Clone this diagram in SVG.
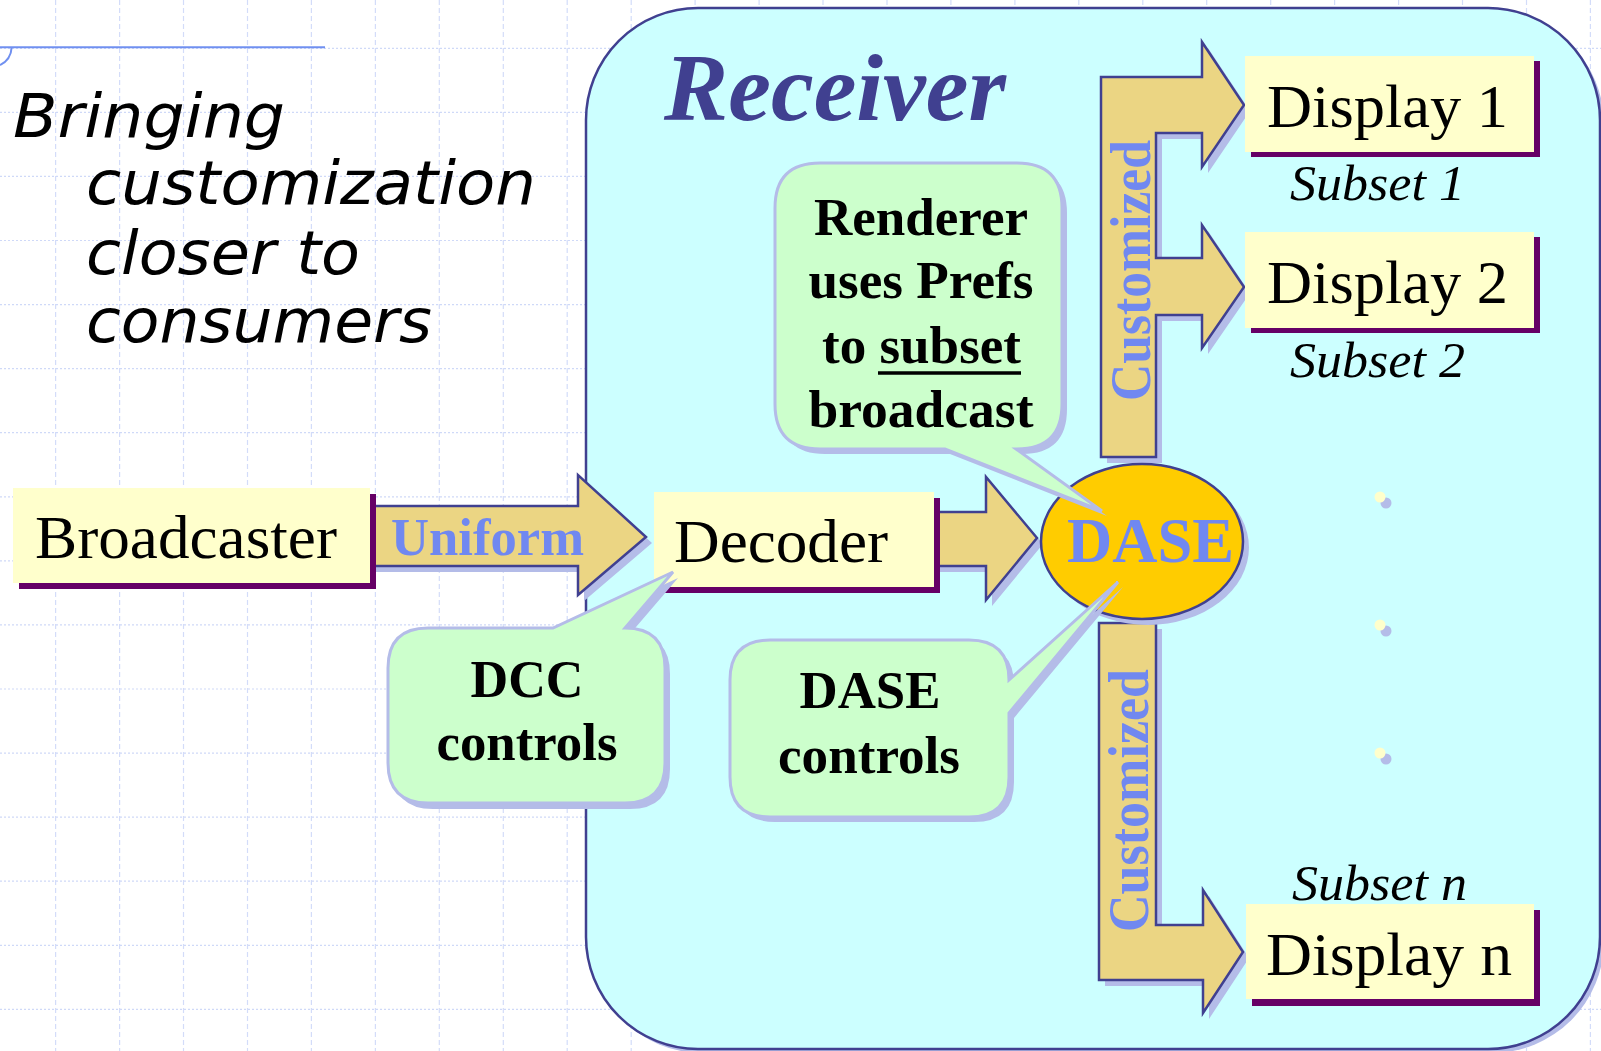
<svg xmlns="http://www.w3.org/2000/svg" width="1601" height="1051" viewBox="0 0 1601 1051">
<style>
.gh{stroke:#cfd9f8;stroke-width:1.2;stroke-dasharray:2 2;fill:none}
.gv{stroke:#d3dcf9;stroke-width:1.2;stroke-dasharray:5 3;fill:none}
.box{fill:#ffffcc}
.bsh{fill:#660066}
.arr{fill:#ebd583;stroke:#404090;stroke-width:2.5;stroke-linejoin:miter}
.ash{fill:#b4bce8}
.cal{fill:#ccffcc;stroke:#b4bce8;stroke-width:3}
.csh{fill:#b4bce8}
.t{font-family:"Liberation Serif","Times New Roman",serif;fill:#000}
.tb{font-family:"Liberation Serif","Times New Roman",serif;font-weight:bold;fill:#000}
.blue{font-family:"Liberation Serif","Times New Roman",serif;font-weight:bold;fill:#7088f0}
.it{font-family:"Liberation Serif","Times New Roman",serif;font-style:italic;fill:#000}
.side{font-family:"DejaVu Sans",Verdana,sans-serif;font-style:oblique;fill:#000;font-size:61px}
</style>
<rect x="0" y="0" width="1601" height="1051" fill="#ffffff"/>
<g id="grid">
<path class="gh" d="M0 48.3H1601M0 112.4H1601M0 176.4H1601M0 240.5H1601M0 304.6H1601M0 368.7H1601M0 432.7H1601M0 496.8H1601M0 560.9H1601M0 624.9H1601M0 689H1601M0 753.1H1601M0 817.1H1601M0 881.2H1601M0 945.3H1601M0 1009.4H1601"/>
<path class="gv" d="M55.6 0V1051M119.6 0V1051M183.5 0V1051M247.5 0V1051M311.4 0V1051M375.4 0V1051M439.3 0V1051M503.3 0V1051M567.2 0V1051M631.2 0V1051M695.1 0V1051M759.1 0V1051M823 0V1051M887 0V1051M950.9 0V1051M1014.9 0V1051M1078.8 0V1051M1142.8 0V1051M1206.7 0V1051M1270.7 0V1051M1334.6 0V1051M1398.6 0V1051M1462.5 0V1051M1526.5 0V1051M1590.4 0V1051"/>
</g>
<g id="title-rule">
<line x1="0" y1="47.3" x2="325" y2="47.3" stroke="#7090f0" stroke-width="2"/>
<path d="M0 65 Q11 60 11.7 47" fill="none" stroke="#7090f0" stroke-width="2"/>
</g>
<g id="caption">
<text class="side" x="13" y="137" textLength="272" lengthAdjust="spacingAndGlyphs">Bringing</text>
<text class="side" x="86" y="204" textLength="450" lengthAdjust="spacingAndGlyphs">customization</text>
<text class="side" x="86" y="274" textLength="274" lengthAdjust="spacingAndGlyphs">closer to</text>
<text class="side" x="86" y="342" textLength="346" lengthAdjust="spacingAndGlyphs">consumers</text>
</g>
<g id="receiver">
<rect x="590" y="12" width="1014" height="1041" rx="112" ry="112" fill="#b4bce8"/>
<rect x="586" y="8" width="1014" height="1041" rx="112" ry="112" fill="#ccffff" stroke="#404090" stroke-width="2.5"/>
<text x="664" y="120" font-family="Liberation Serif,'Times New Roman',serif" font-weight="bold" font-style="italic" font-size="96" fill="#404090" textLength="342" lengthAdjust="spacingAndGlyphs">Receiver</text>
</g>
<g id="connectors">
<polygon class="ash" transform="translate(6,6)" points="370,506 578,506 578,475 646,537 578,595 578,566 370,566"/>
<polygon class="arr" points="370,506 578,506 578,475 646,537 578,595 578,566 370,566"/>
<text class="blue" x="391" y="555" font-size="53" textLength="193" lengthAdjust="spacingAndGlyphs">Uniform</text>
<polygon class="ash" transform="translate(6,6)" points="934,512 986,512 986,477 1037,538 986,600 986,566 934,566"/>
<polygon class="arr" points="934,512 986,512 986,477 1037,538 986,600 986,566 934,566"/>
<polygon class="ash" transform="translate(6,6)" points="1101,77 1202,77 1202,42 1244,105 1202,167 1202,133 1156,133 1156,258 1202,258 1202,225 1244,287 1202,348 1202,315 1156,315 1156,457 1101,457"/>
<polygon class="arr" points="1101,77 1202,77 1202,42 1244,105 1202,167 1202,133 1156,133 1156,258 1202,258 1202,225 1244,287 1202,348 1202,315 1156,315 1156,457 1101,457"/>
<text class="blue" transform="translate(1150,270.5) rotate(-90)" x="0" y="0" text-anchor="middle" font-size="58" textLength="261" lengthAdjust="spacingAndGlyphs">Customized</text>
<polygon class="ash" transform="translate(6,6)" points="1099,623 1156,623 1156,925 1203,925 1203,890 1243,952 1203,1013 1203,980 1099,980"/>
<polygon class="arr" points="1099,623 1156,623 1156,925 1203,925 1203,890 1243,952 1203,1013 1203,980 1099,980"/>
<text class="blue" transform="translate(1148,800.5) rotate(-90)" x="0" y="0" text-anchor="middle" font-size="58" textLength="263" lengthAdjust="spacingAndGlyphs">Customized</text>
</g>
<g id="broadcaster">
<rect class="bsh" x="19" y="494" width="357" height="95"/>
<rect class="box" x="13" y="488" width="357" height="95"/>
<text class="t" x="35" y="558" font-size="62" textLength="302" lengthAdjust="spacingAndGlyphs">Broadcaster</text>
</g>
<g id="decoder">
<rect class="bsh" x="660" y="498" width="280" height="95"/>
<rect class="box" x="654" y="492" width="280" height="95"/>
<text class="t" x="674" y="562" font-size="62" textLength="214" lengthAdjust="spacingAndGlyphs">Decoder</text>
</g>
<g id="display1">
<rect class="bsh" x="1251" y="61" width="289" height="96"/>
<rect class="box" x="1245" y="56" width="289" height="96"/>
<text class="t" x="1267" y="127" font-size="62" textLength="241" lengthAdjust="spacingAndGlyphs">Display 1</text>
<text class="it" x="1290" y="200" font-size="50" textLength="175" lengthAdjust="spacingAndGlyphs">Subset 1</text>
</g>
<g id="display2">
<rect class="bsh" x="1251" y="237" width="289" height="96"/>
<rect class="box" x="1245" y="232" width="289" height="96"/>
<text class="t" x="1267" y="303" font-size="62" textLength="241" lengthAdjust="spacingAndGlyphs">Display 2</text>
<text class="it" x="1290" y="377" font-size="50" textLength="175" lengthAdjust="spacingAndGlyphs">Subset 2</text>
</g>
<g id="displayn">
<text class="it" x="1292" y="900" font-size="50" textLength="175" lengthAdjust="spacingAndGlyphs">Subset n</text>
<rect class="bsh" x="1252" y="910" width="288" height="96"/>
<rect class="box" x="1246" y="904" width="288" height="95"/>
<text class="t" x="1266" y="975" font-size="62" textLength="246" lengthAdjust="spacingAndGlyphs">Display n</text>
</g>
<g id="dots">
<circle cx="1386" cy="503" r="5.5" fill="#b4bce8"/>
<circle cx="1380" cy="497" r="5.5" fill="#ffffcc"/>
<circle cx="1386" cy="631" r="5.5" fill="#b4bce8"/>
<circle cx="1380" cy="625" r="5.5" fill="#ffffcc"/>
<circle cx="1386" cy="759" r="5.5" fill="#b4bce8"/>
<circle cx="1380" cy="753" r="5.5" fill="#ffffcc"/>
</g>
<g id="dase">
<ellipse cx="1148" cy="547.5" rx="101" ry="77.5" fill="#b4bce8"/>
<ellipse cx="1142" cy="541.5" rx="101" ry="77.5" fill="#ffcc00" stroke="#404090" stroke-width="2.5"/>
<text class="blue" x="1067" y="562" font-size="63" textLength="167" lengthAdjust="spacingAndGlyphs">DASE</text>
</g>
<g id="renderer-callout">
<path class="csh" transform="translate(5,5)" d="M820 163H1017Q1062 163 1062 208V404Q1062 449 1017 449H1016L1102 511L945 449H820Q775 449 775 404V208Q775 163 820 163Z"/>
<path class="cal" d="M820 163H1017Q1062 163 1062 208V404Q1062 449 1017 449H1016L1102 511L945 449H820Q775 449 775 404V208Q775 163 820 163Z"/>
<text class="tb" x="921" y="235" font-size="53" text-anchor="middle" textLength="214" lengthAdjust="spacingAndGlyphs">Renderer</text>
<text class="tb" x="921" y="298" font-size="53" text-anchor="middle" textLength="225" lengthAdjust="spacingAndGlyphs">uses Prefs</text>
<text class="tb" x="921.5" y="363" font-size="53" text-anchor="middle" textLength="199" lengthAdjust="spacingAndGlyphs">to subset</text>
<line x1="878" y1="373" x2="1021" y2="373" stroke="#000" stroke-width="3.5"/>
<text class="tb" x="921" y="427" font-size="53" text-anchor="middle" textLength="225" lengthAdjust="spacingAndGlyphs">broadcast</text>
</g>
<g id="dcc-callout">
<path class="csh" transform="translate(5,6)" d="M428 628H553L673 572L625 628Q665 628 665 668V763Q665 803 625 803H428Q388 803 388 763V668Q388 628 428 628Z"/>
<path class="cal" d="M428 628H553L673 572L625 628Q665 628 665 668V763Q665 803 625 803H428Q388 803 388 763V668Q388 628 428 628Z"/>
<text class="tb" x="527" y="697" font-size="52" text-anchor="middle" textLength="113" lengthAdjust="spacingAndGlyphs">DCC</text>
<text class="tb" x="527" y="760" font-size="52" text-anchor="middle" textLength="181" lengthAdjust="spacingAndGlyphs">controls</text>
</g>
<g id="dase-callout">
<path class="csh" transform="translate(5,5)" d="M770 640H969Q1009 640 1009 680L1118 582L1009 713V777Q1009 817 969 817H770Q730 817 730 777V680Q730 640 770 640Z"/>
<path class="cal" d="M770 640H969Q1009 640 1009 680L1118 582L1009 713V777Q1009 817 969 817H770Q730 817 730 777V680Q730 640 770 640Z"/>
<text class="tb" x="870" y="708" font-size="52" text-anchor="middle" textLength="141" lengthAdjust="spacingAndGlyphs">DASE</text>
<text class="tb" x="869" y="773" font-size="52" text-anchor="middle" textLength="182" lengthAdjust="spacingAndGlyphs">controls</text>
</g>
</svg>
